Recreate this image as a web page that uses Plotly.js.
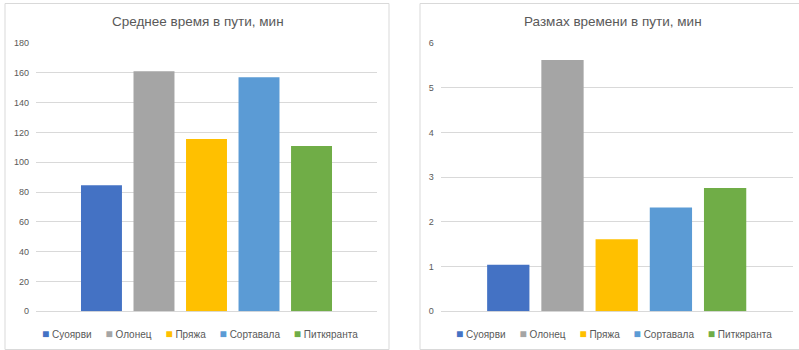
<!DOCTYPE html>
<html>
<head>
<meta charset="utf-8">
<script src="https://cdn.plot.ly/plotly-3.0.1.min.js"></script>
<style>
  html, body { margin: 0; padding: 0; background: #fff; }
  #chart { width: 799px; height: 350px; }
</style>
</head>
<body>
<div id="chart"></div>
<script>
// Travel time by town
const towns = ['Суоярви', 'Олонец', 'Пряжа', 'Сортавала', 'Питкяранта'];
const meanMinutes = [84.5, 161, 115.6, 157, 110.9];
const spreadMinutes = [1.04, 5.62, 1.61, 2.32, 2.76];
const townColors = ['#4472C4', '#A5A5A5', '#FFC000', '#5B9BD5', '#70AD47'];
const chartTitles = ['Среднее время в пути, мин', 'Размах времени в пути, мин'];

const W = 799, H = 350;
const px = x => x / W;          // pixel -> paper x
const py = y => 1 - y / H;      // pixel -> paper y (from top)

const textColor = '#595959';
const gridColor = '#D9D9D9';
const fontFamily = '"Liberation Sans", Arial, sans-serif';

const traces = [];
towns.forEach((town, i) => {
  traces.push({
    type: 'bar', name: town, x: [''], y: [meanMinutes[i]],
    xaxis: 'x', yaxis: 'y', marker: { color: townColors[i] },
    showlegend: false, hoverinfo: 'y+name'
  });
  traces.push({
    type: 'bar', name: town, x: [''], y: [spreadMinutes[i]],
    xaxis: 'x2', yaxis: 'y2', marker: { color: townColors[i] },
    showlegend: false, hoverinfo: 'y+name'
  });
});

// legend line: coloured square followed by the town name
function legendLine() {
  return towns.map((t, i) =>
    `<span style="color:${townColors[i]};font-size:12px">■</span> ${t}`
  ).join('\u00A0\u00A0\u00A0\u00A0\u00A0');
}

const xAxisBase = {
  type: 'category', showticklabels: false, showgrid: false,
  zeroline: false, showline: false, ticks: '', fixedrange: true
};
const yAxisBase = {
  showgrid: true, gridcolor: gridColor, gridwidth: 1,
  zeroline: true, zerolinecolor: gridColor, zerolinewidth: 1,
  showline: false, ticks: '', ticklabelstandoff: 6,
  tickfont: { family: fontFamily, size: 9, color: textColor },
  fixedrange: true
};

const layout = {
  width: W, height: H,
  margin: { l: 0, r: 0, t: 0, b: 0 },
  paper_bgcolor: '#fff', plot_bgcolor: '#fff',
  barmode: 'group', bargap: 0.23, bargroupgap: 0.22,
  showlegend: false,
  font: { family: fontFamily, color: textColor },
  xaxis: Object.assign({}, xAxisBase, { domain: [px(36), px(377)], anchor: 'y' }),
  yaxis: Object.assign({}, yAxisBase, { domain: [py(311.3), py(43)], range: [0, 180], dtick: 20, anchor: 'x' }),
  xaxis2: Object.assign({}, xAxisBase, { domain: [px(440.7), px(792.7)], anchor: 'y2' }),
  yaxis2: Object.assign({}, yAxisBase, { domain: [py(311.3), py(43)], range: [0, 6], dtick: 1, anchor: 'x2' }),
  shapes: [
    { type: 'rect', xref: 'paper', yref: 'paper', x0: px(5), x1: px(389), y0: py(349.5), y1: py(3.5),
      line: { color: gridColor, width: 1 }, fillcolor: 'rgba(0,0,0,0)', layer: 'below' },
    { type: 'rect', xref: 'paper', yref: 'paper', x0: px(420), x1: px(806), y0: py(349.5), y1: py(3.5),
      line: { color: gridColor, width: 1 }, fillcolor: 'rgba(0,0,0,0)', layer: 'below' }
  ],
  annotations: [
    { text: chartTitles[0], xref: 'paper', yref: 'paper', x: px(197.5), y: py(22),
      xanchor: 'center', yanchor: 'middle', showarrow: false,
      font: { family: fontFamily, size: 13.5, color: textColor } },
    { text: chartTitles[1], xref: 'paper', yref: 'paper', x: px(612.5), y: py(22),
      xanchor: 'center', yanchor: 'middle', showarrow: false,
      font: { family: fontFamily, size: 13.5, color: textColor } },
    { text: legendLine(), xref: 'paper', yref: 'paper', x: px(199.5), y: py(334),
      xanchor: 'center', yanchor: 'middle', showarrow: false,
      font: { family: fontFamily, size: 10, color: textColor } },
    { text: legendLine(), xref: 'paper', yref: 'paper', x: px(614), y: py(334),
      xanchor: 'center', yanchor: 'middle', showarrow: false,
      font: { family: fontFamily, size: 10, color: textColor } }
  ]
};

Plotly.newPlot('chart', traces, layout, { displayModeBar: false, staticPlot: true });
</script>
</body>
</html>
